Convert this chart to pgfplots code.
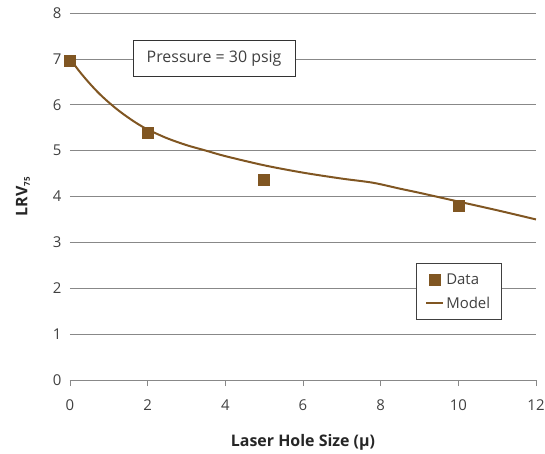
\documentclass[border=0pt]{standalone}
\usepackage{pgfplots}
\pgfplotsset{compat=1.18}
\usepackage{fontspec}
\setmainfont{Open Sans}
\definecolor{brn}{RGB}{128,86,34}
\definecolor{gridc}{RGB}{136,136,136}
\definecolor{txt}{RGB}{64,64,64}
\begin{document}
\begin{tikzpicture}
\useasboundingbox (-70bp,-74bp) rectangle (475bp,380bp);
\begin{axis}[
  at={(0,0)}, anchor=south west,
  scale only axis,
  width=466bp, height=367bp,
  xmin=0, xmax=12, ymin=0, ymax=8,
  xtick={0,2,...,12}, ytick={0,1,...,8},
  axis x line*=bottom,
  axis y line*=left,
  x axis line style={draw=gridc, line width=0.8pt, -},
  y axis line style={draw=none},
  ymajorgrids, grid style={gridc, line width=0.7pt},
  xtick style={draw=gridc, line width=0.8pt},
  ytick style={draw=none},
  xtick align=outside, major tick length=6bp,
  /pgf/number format/assume math mode=true,
  ticklabel style={font=\fontsize{15}{17}\selectfont, text=txt},
  yticklabel style={anchor=east, xshift=-5bp},
  xticklabel style={anchor=base, yshift=-24bp},
  xlabel={\textbf{Laser Hole Size (µ)}},
  ylabel={\textbf{LRV\textsubscript{\fontsize{8}{9}\selectfont 75}}},
  label style={font=\fontsize{16}{18}\selectfont, text=black!85},
  xlabel style={at={(axis description cs:0.5,-0.1817)}, anchor=base},
  ylabel style={at={(axis description cs:-0.1009,0.5)}, anchor=center},
  legend style={anchor=south west, at={(axis cs:8.91,1.31)},
    draw=black!75, line width=0.6pt, font=\fontsize{15}{17}\selectfont, text=txt,
    row sep=7pt, inner xsep=9pt, inner ysep=8pt},
  legend cell align=left,
  clip=false,
]
\addplot[only marks, mark=square*, mark size=5.5bp, color=brn] coordinates {
 (0,6.97) (2,5.39) (5,4.37) (10,3.79)
};
\addlegendentry{Data}
\addplot[brn, line width=2bp, smooth] coordinates {
 (0,7.0) (0.25,6.72) (0.5,6.47) (0.75,6.245) (1,6.05) (1.25,5.875) (1.5,5.72) (1.75,5.58) (2,5.46) (2.5,5.27) (3,5.12) (3.5,5.0) (4,4.88) (5,4.68) (6,4.52) (7,4.39) (7.8,4.3) (8.5,4.17) (9,4.08) (10,3.89) (11,3.7) (12,3.5)
};
\addlegendentry{Model}
\node[draw=black!80, line width=0.6pt, fill=white, text=txt, minimum height=36bp, minimum width=162bp, font=\fontsize{16}{18}\selectfont] at (axis cs:3.71,7.015) {Pressure = 30 psig};
\end{axis}
\end{tikzpicture}
\end{document}
